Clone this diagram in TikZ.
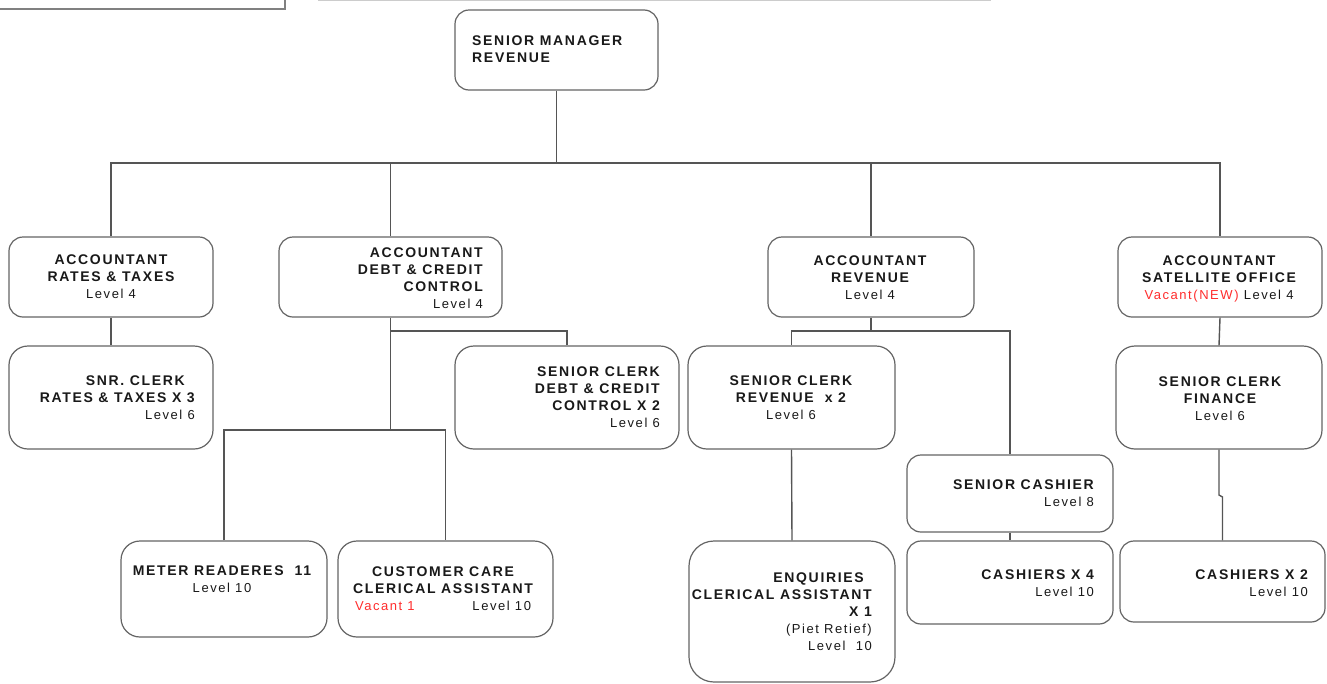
\documentclass[tikz,border=0pt]{standalone}
\usepackage{fontspec}
\setmainfont{Liberation Sans}[LetterSpace=12]
\definecolor{lc}{RGB}{85,85,85}
\definecolor{bc}{RGB}{100,100,100}
\definecolor{vr}{RGB}{255,45,45}
\definecolor{tx}{RGB}{25,25,25}
\newcommand\ttl{\fontsize{14}{17}\selectfont\bfseries}
\newcommand\lvl{\fontsize{13}{17}\selectfont\mdseries}
\begin{document}
\begin{tikzpicture}[x=1pt,y=-1pt,
  box/.style={draw=bc, line width=1.2pt, rounded corners=14pt, inner sep=0pt, fill=white},
  tallbox/.style={box, rounded corners=19pt},
  conn/.style={draw=lc, line width=1.4pt},
  txt/.style={inner sep=0pt, text=tx, font=\ttl}]
\useasboundingbox (0,0) rectangle (1327,683);
% cut-off fragments at the top edge
\draw[gray, line width=1.5pt] (-5,9) -- (285,9) -- (285,-5);
\draw[gray!40, line width=1pt] (318,0.5) -- (991,0.5);
\coordinate (bus) at (0,163);
\coordinate (mid) at (0,331);
\coordinate (low) at (0,430);
% boxes
\node[box, minimum width=203pt, minimum height=80pt] (sm) at (556.5,50) {};
\node[box, minimum width=204pt, minimum height=80pt] (ar) at (111,277) {};
\node[box, minimum width=223pt, minimum height=80pt] (ad) at (390.5,277) {};
\node[box, minimum width=206pt, minimum height=80pt] (av) at (871,277) {};
\node[box, minimum width=204pt, minimum height=80pt] (as) at (1220,277) {};
\node[tallbox, minimum width=204pt, minimum height=103pt] (sr) at (111,397.5) {};
\node[tallbox, minimum width=224pt, minimum height=103pt] (sd) at (567,397.5) {};
\node[tallbox, minimum width=207pt, minimum height=103pt] (sv) at (791.5,397.5) {};
\node[tallbox, minimum width=206pt, minimum height=103pt] (sf) at (1219,397.5) {};
\node[tallbox, minimum width=206pt, minimum height=96pt] (mr) at (224,589) {};
\node[tallbox, minimum width=215pt, minimum height=96pt] (cc) at (445.5,589) {};
\node[box, rounded corners=25pt, minimum width=206pt, minimum height=141pt] (en) at (792,611.5) {};
\node[box, minimum width=206pt, minimum height=77pt] (sc) at (1010,493.5) {};
\node[box, minimum width=206pt, minimum height=83pt] (c4) at (1010,582.5) {};
\node[box, minimum width=205pt, minimum height=81pt] (c2) at (1222.5,581.5) {};
% connectors between named boxes
\draw[conn] (sm.south) -- (sm.south |- bus);
\draw[conn] (ar.north) |- (as.north |- bus) -- (as.north);
\draw[conn] (ad.north) -- (ad.north |- bus);
\draw[conn] (av.north) -- (av.north |- bus);
\draw[conn] (ar.south) -- (sr.north);
\draw[conn] (ad.south) -- (ad.south |- low);
\draw[conn] (ad.south |- mid) -| (sd.north);
\draw[conn] (mr.north) |- (cc.north |- low) -- (cc.north);
\draw[conn] (as.south) -- (sf.north);
\draw[conn] (av.south) -- (av.south |- mid);
\draw[conn] (sv.north) |- (sc.north |- mid) -- (sc.north);
\draw[conn] (sv.south) -- (en.north);
\draw[conn] (sc.south) -- (c4.north);
\draw[conn] (sf.south) -- (sf.south |- 0,495) -- (c2.north |- 0,497) -- (c2.north);
% texts
\node[txt, anchor=north west, align=left] (smt) at (472,36) {SENIOR MANAGER\\REVENUE};
\node[txt, anchor=north, align=center] (art) at (111,255) {ACCOUNTANT\\RATES \& TAXES\hspace*{31pt}\\{\lvl Level 4}};
\node[txt, anchor=north east, align=right] (adt) at (483,248) {ACCOUNTANT\\DEBT \& CREDIT\hspace*{10pt}\\CONTROL\hspace*{42pt}\\{\lvl Level 4}};
\node[txt, anchor=north, align=center] (avt) at (870,256) {ACCOUNTANT\\REVENUE\\{\lvl Level 4}};
\node[txt, anchor=north, align=center] (ast) at (1219,256) {ACCOUNTANT\\SATELLITE OFFICE\\{\lvl \textcolor{vr}{Vacant(NEW)} Level 4}};
\node[txt, anchor=north east, align=right] (srt) at (195,376) {SNR. CLERK\hspace*{10pt}\\RATES \& TAXES X 3\\{\lvl Level 6}};
\node[txt, anchor=north east, align=right] (sdt) at (660,367) {SENIOR CLERK\\DEBT \& CREDIT\hspace*{11pt}\\CONTROL X 2\\{\lvl Level 6}};
\node[txt, anchor=north, align=center] (svt) at (791,376) {SENIOR CLERK\\REVENUE\ \ x 2\\{\lvl Level 6}};
\node[txt, anchor=north, align=center] (sft) at (1220,377) {SENIOR CLERK\\FINANCE\\{\lvl Level 6}};
\node[txt, anchor=north, align=center] (mrt) at (222,566) {METER READERES\ \ 11\\{\lvl Level 10}};
\node[txt, anchor=north, align=center] (cct) at (443,567) {CUSTOMER CARE\\CLERICAL ASSISTANT\\{\lvl\makebox[176pt]{\textcolor{vr}{Vacant 1}\hfill Level 10}}};
\node[txt, anchor=north east, align=right] (ent) at (872,573) {ENQUIRIES\hspace*{8pt}\\CLERICAL ASSISTANT\\X 1\\{\lvl (Piet Retief)}\\{\lvl Level\ \ 10}};
\node[txt, anchor=north east, align=right] (sct) at (1094,480) {SENIOR CASHIER\\{\lvl Level 8}};
\node[txt, anchor=north east, align=right] (c4t) at (1094,570) {CASHIERS X 4\\{\lvl Level 10}};
\node[txt, anchor=north east, align=right] (c2t) at (1308,570) {CASHIERS X 2\\{\lvl Level 10}};
\end{tikzpicture}
\end{document}
